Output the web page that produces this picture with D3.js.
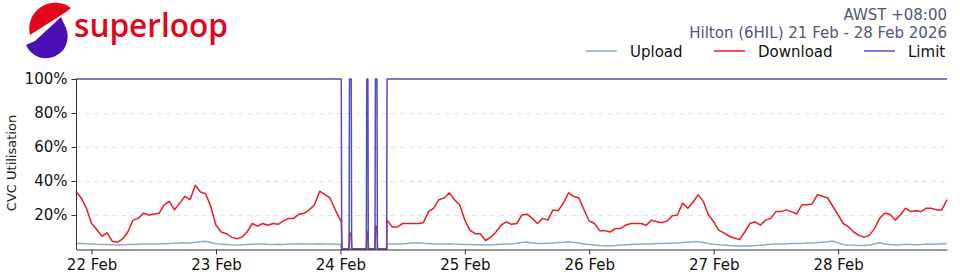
<!DOCTYPE html>
<html>
<head>
<meta charset="utf-8">
<script src="https://cdn.jsdelivr.net/npm/d3@7"></script>
<style>
  body { margin: 0; background: #fff; }
  svg { display: block; font-family: "DejaVu Sans", sans-serif; }
</style>
</head>
<body>
<svg width="960" height="280"></svg>
<script>
var svg = d3.select('svg');

// hourly samples from 21 Feb 21:00 to 28 Feb 21:00 (AWST), null = replaced by outage rows
var startTime = new Date(2026, 1, 21, 21, 0);
var download = [
    34, 30, 24, 15, 11.5, 7.5, 9.5, 4.5, 4, 6, 10, 17,
    18, 21, 20, 20.5, 21, 26, 28, 23, 27, 31, 29, 37.5,
    33.5, 32.5, 25, 14, 10, 9, 7, 6, 7, 10, 15, 13.5,
    15, 14, 15, 14.5, 16.5, 18, 18, 20.5, 21, 23, 26, 34,
    32, 30, 23, 17, null, null, null, null, null, null, null, null,
    17, 13, 13, 15, 15, 15, 15, 15.5, 22, 24, 29, 30,
    33, 29, 26, 17, 11, 9, 9, 5, 7, 10, 14, 16,
    14.5, 15, 20, 20.5, 18, 15, 18, 17, 23, 22.5, 27, 33,
    31, 30, 23, 16.5, 15, 10.8, 10.8, 10, 12, 12, 14, 15,
    15, 15, 14, 17, 16, 15.5, 16.5, 19.5, 20, 27, 24, 27.5,
    32, 28, 20, 16, 11, 9.5, 7.5, 6.5, 5.5, 10, 15, 16,
    14, 17, 18, 22, 22, 23, 22, 20.6, 26, 26, 26.5, 32,
    31, 30, 25, 20, 15, 13, 10, 8, 7, 8, 12, 18,
    21, 20.5, 17, 20, 24, 22, 22.5, 22, 24, 24, 23, 23, 29
];
var upload = [
    3.2, 3.3, 3.1, 3.0, 2.8, 2.7, 2.6, 2.5, 2.4, 2.5, 2.6, 2.7,
    2.8, 2.9, 2.9, 2.9, 3.0, 3.1, 3.2, 3.4, 3.5, 3.7, 3.6, 3.9,
    4.2, 4.5, 3.8, 3.1, 2.9, 2.7, 2.5, 2.4, 2.5, 2.7, 2.8, 2.9,
    3.0, 2.8, 2.7, 2.8, 2.7, 2.9, 3.0, 3.1, 3.0, 2.9, 3.0, 3.1,
    3.0, 2.9, 2.8, 2.8, null, null, null, null, null, null, null, null,
    3.0, 2.9, 3.0, 3.1, 3.3, 3.5, 3.7, 3.4, 3.2, 3.0, 3.0, 2.9,
    3.1, 2.9, 2.8, 2.7, 2.6, 2.5, 2.5, 2.4, 2.4, 2.6, 2.8, 3.0,
    3.0, 3.4, 3.8, 4.1, 3.5, 3.2, 3.3, 3.4, 3.5, 3.8, 4.0, 4.3,
    3.9, 3.5, 3.0, 2.6, 2.3, 2.0, 1.9, 1.8, 2.0, 2.3, 2.5, 2.7,
    2.8, 2.9, 2.9, 3.0, 3.2, 3.3, 3.4, 3.5, 3.6, 3.8, 4.0, 4.2,
    4.2, 3.8, 3.2, 2.8, 2.5, 2.3, 2.0, 1.8, 1.8, 1.9, 1.8, 2.0,
    2.2, 2.5, 2.8, 2.9, 3.0, 3.1, 3.3, 3.3, 3.4, 3.6, 3.5, 3.8,
    3.9, 4.3, 4.7, 3.6, 2.5, 2.3, 2.2, 2.1, 2.0, 2.3, 3.0, 3.7,
    3.0, 2.6, 2.4, 2.5, 2.8, 2.6, 2.5, 2.7, 2.9, 2.8, 3.0, 3.1, 3.1
];

// link outage on the morning of 24 Feb
var downloadOutage = [
    ['2026-02-24 00:10', 16], ['2026-02-24 00:20', 0], ['2026-02-24 01:40', 0],
    ['2026-02-24 01:48', 9.5], ['2026-02-24 02:05', 9], ['2026-02-24 02:12', 0],
    ['2026-02-24 05:00', 0], ['2026-02-24 05:06', 10], ['2026-02-24 05:18', 10],
    ['2026-02-24 05:25', 0], ['2026-02-24 06:40', 0], ['2026-02-24 06:47', 13.5],
    ['2026-02-24 07:03', 13], ['2026-02-24 07:10', 0], ['2026-02-24 08:55', 0]
];
var uploadOutage = [
    ['2026-02-24 00:15', 0], ['2026-02-24 08:55', 0]
];
var limitPoints = [
    ['2026-02-21 21:00', 100], ['2026-02-24 00:10', 100], ['2026-02-24 00:15', 0],
    ['2026-02-24 01:40', 0], ['2026-02-24 01:45', 100], ['2026-02-24 02:05', 100],
    ['2026-02-24 02:10', 0], ['2026-02-24 05:00', 0], ['2026-02-24 05:05', 100],
    ['2026-02-24 05:18', 100], ['2026-02-24 05:23', 0], ['2026-02-24 06:40', 0],
    ['2026-02-24 06:45', 100], ['2026-02-24 07:03', 100], ['2026-02-24 07:08', 0],
    ['2026-02-24 08:55', 0], ['2026-02-24 09:00', 100], ['2026-02-28 21:00', 100]
];

var yTicks = [20, 40, 60, 80, 100];
var xTickDays = ['2026-02-22', '2026-02-23', '2026-02-24', '2026-02-25', '2026-02-26', '2026-02-27', '2026-02-28'];
var legendItems = ['Upload', 'Download', 'Limit'];
var titleLines = ['AWST +08:00', 'Hilton (6HIL) 21 Feb - 28 Feb 2026'];

var colors = {Upload: '#8badd0', Download: '#ee1c25', Limit: '#4f4fc2'};

var parseTime = d3.timeParse('%Y-%m-%d %H:%M');
var parseDay = d3.timeParse('%Y-%m-%d');

function buildSeries(values, outage) {
    var pts = [];
    values.forEach(function(v, i) {
        if (v !== null) pts.push({t: d3.timeHour.offset(startTime, i), v: v});
    });
    outage.forEach(function(r) {
        pts.push({t: parseTime(r[0]), v: r[1]});
    });
    return pts.sort(function(a, b) { return a.t - b.t; });
}

var series = {
    Upload: buildSeries(upload, uploadOutage),
    Download: buildSeries(download, downloadOutage),
    Limit: limitPoints.map(function(r) { return {t: parseTime(r[0]), v: r[1]}; })
};

var plot = {l: 76, r: 947, t: 79, b: 249};

var x = d3.scaleTime()
    .domain([startTime, d3.timeHour.offset(startTime, 168)])
    .range([plot.l, plot.r]);
var y = d3.scaleLinear().domain([0, 100]).range([plot.b, plot.t]);

// gridlines
svg.append('g')
    .selectAll('line')
    .data(yTicks.slice(0, 4))
    .enter()
    .append('line')
    .attr('x1', plot.l).attr('x2', plot.r)
    .attr('y1', function(d) { return y(d) + 0.5; })
    .attr('y2', function(d) { return y(d) + 0.5; })
    .attr('stroke', '#e2e2e2')
    .attr('stroke-dasharray', '5,4');

var line = d3.line()
    .x(function(d) { return x(d.t); })
    .y(function(d) { return y(d.v); });

['Upload', 'Download', 'Limit'].forEach(function(k) {
    svg.append('path')
        .datum(series[k])
        .attr('fill', 'none')
        .attr('stroke', colors[k])
        .attr('stroke-width', 1.5)
        .attr('stroke-linejoin', 'round')
        .attr('d', line);
});

// axes
var yAxis = d3.axisLeft(y)
    .tickValues(yTicks)
    .tickFormat(function(d) { return d + '%'; })
    .tickSize(5).tickSizeOuter(0).tickPadding(4);
var yG = svg.append('g')
    .attr('transform', 'translate(' + (plot.l + 0.5) + ',0)')
    .call(yAxis);
yG.select('.domain').attr('d', 'M0,' + plot.t + 'V' + (plot.b + 0.5));

var xAxis = d3.axisBottom(x)
    .tickValues(xTickDays.map(parseDay))
    .tickFormat(d3.timeFormat('%d %b'))
    .tickSize(5).tickSizeOuter(0).tickPadding(5);
svg.append('g')
    .attr('transform', 'translate(0,' + (plot.b + 0.5) + ')')
    .call(xAxis);

svg.selectAll('.tick text')
    .attr('font-size', 15)
    .attr('font-family', '"DejaVu Sans", sans-serif')
    .attr('fill', '#111');
svg.selectAll('.domain, .tick line').attr('stroke', '#333');

svg.append('text')
    .attr('transform', 'translate(16,163)rotate(-90)')
    .attr('text-anchor', 'middle')
    .attr('font-size', 13)
    .attr('fill', '#222')
    .text('CVC Utilisation');

// title (top right)
svg.selectAll('.title')
    .data(titleLines)
    .enter()
    .append('text')
    .attr('class', 'title')
    .attr('x', 947)
    .attr('y', function(d, i) { return 20 + i * 18; })
    .attr('text-anchor', 'end')
    .attr('font-size', 15)
    .attr('fill', '#4f5875')
    .text(function(d) { return d; });

// legend
var legendX = [586, 714, 864];
var legendG = svg.selectAll('.legend')
    .data(legendItems)
    .enter()
    .append('g')
    .attr('class', 'legend')
    .attr('transform', function(d, i) { return 'translate(' + legendX[i] + ',51)'; });
legendG.append('line')
    .attr('x1', 0).attr('x2', 31)
    .attr('stroke', function(d) { return colors[d]; })
    .attr('stroke-width', 1.5);
legendG.append('text')
    .attr('x', 44).attr('y', 5.5)
    .attr('font-size', 15)
    .attr('fill', '#111')
    .text(function(d) { return d; });

// logo
var logo = svg.append('g');
logo.append('path')
    .attr('d', 'M71,8 A26,26 0 0 0 30,35 L66,12 Z')
    .attr('fill', '#e3051b');
logo.append('path')
    .attr('d', 'M26,45 A21,21 0 0 0 66,28 L61,17 L35,41 Z')
    .attr('fill', '#4a10b6');
logo.append('text')
    .attr('x', 74).attr('y', 37)
    .attr('font-family', '"Open Sans", sans-serif')
    .attr('font-weight', 600)
    .attr('font-size', 32)
    .attr('textLength', 154)
    .attr('lengthAdjust', 'spacingAndGlyphs')
    .attr('fill', '#e3051b')
    .text('superloop');
</script>
</body>
</html>
